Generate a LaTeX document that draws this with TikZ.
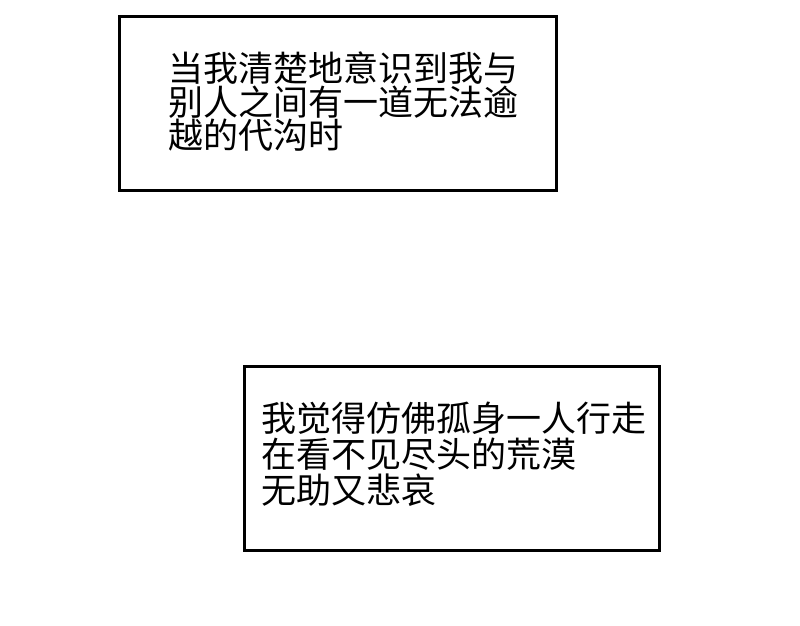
\documentclass[tikz,border=0pt]{standalone}
\usepackage{fontspec}
\newfontfamily\cjk{Noto Sans CJK SC}
\begin{document}
\begin{tikzpicture}[x=1pt,y=-1pt,
  panel/.style={draw=black,line width=3pt,fill=white},
  txt/.style={font=\cjk\fontsize{35}{33.5}\selectfont,align=left,anchor=west,inner sep=0pt}]
\useasboundingbox (0,0) rectangle (800,625);
\fill[white] (0,0) rectangle (800,625);
\draw[panel] (119,16) rectangle (556,190);
\node[txt] (t1) at (168,102) {当我清楚地意识到我与\\别人之间有一道无法逾\\越的代沟时};
\draw[panel] (244,366) rectangle (659,550);
\node[txt,font=\cjk\fontsize{35}{36}\selectfont] (t2) at (261,454) {我觉得仿佛孤身一人行走\\在看不见尽头的荒漠\\无助又悲哀};
\end{tikzpicture}
\end{document}
